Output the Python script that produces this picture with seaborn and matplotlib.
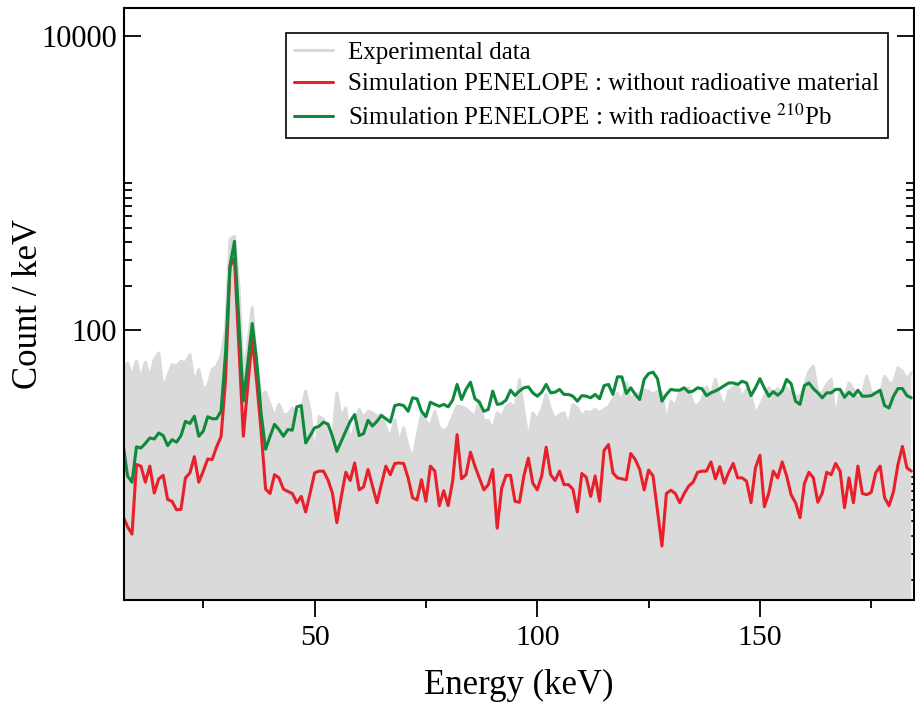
import numpy as np
import pandas as pd
import matplotlib
matplotlib.use("Agg")
import matplotlib.pyplot as plt
from matplotlib.ticker import FixedLocator, FixedFormatter, NullFormatter
import seaborn as sns

# Energy bins (keV), 1 keV step
energy = list(range(7, 185))

# Experimental spectrum (counts / keV)
experimental = [
    54, 60, 48.7, 61.5, 46.3, 60.6, 47.4, 63.2, 70.1, 39.6,
    48.7, 58.4, 57.0, 61.5, 60, 68.3, 43.8, 54, 39.6, 41.7,
    54, 57, 66.5, 100, 415, 436, 200, 50, 80, 143,
    57, 36, 38, 31.3, 25.4, 31.3, 26.7, 26.7, 29.6, 28.1,
    28.9, 38.5, 28.1, 13.5, 26.0, 24.7, 19.5, 18.0, 37.5, 25.4,
    29.6, 17.1, 22.3, 28.9, 25.4, 28.1, 27.4, 26.0, 26.7, 21.7,
    18.5, 24.7, 17.1, 21.7, 16.2, 13.2, 19.0, 26.7, 24.0, 22.3,
    28.1, 21.7, 20.6, 21.7, 25.8, 30.4, 30.1, 29.2, 27.4, 26.0,
    33.5, 24.0, 24.4, 21.1, 27.4, 25.8, 30.1, 31.7, 29.6, 46.3,
    28.1, 18.0, 27.4, 24.7, 28.9, 36.6, 28.9, 24.7, 26.7, 27.4,
    22.3, 31.3, 29.6, 26.0, 28.1, 27.4, 28.9, 27.4, 28.9, 30.1,
    33.8, 37.1, 32.9, 43.8, 33.8, 36.6, 37.5, 39.1, 38.5, 36.6,
    38.5, 37.5, 23.5, 32.9, 30.4, 38.5, 38.5, 40.6, 31.3, 30.4,
    33.8, 41.2, 35.6, 46.3, 35.6, 29.6, 38.5, 40.6, 42.8, 34.7,
    39.6, 35.6, 26.7, 30.4, 35.6, 40.6, 37.5, 40.1, 37.1, 40.6,
    37.5, 35.6, 35.6, 41.7, 52.6, 57.0, 37.5, 37.5, 42.8, 46.3,
    24.7, 37.9, 35.6, 43.8, 39.6, 33.8, 36.6, 48.7, 37.5, 37.5,
    36.6, 48.7, 43.8, 43.8, 55.5, 52.6, 46.3, 51.3,
]

# PENELOPE without radioactive material
sim_without = [
    5.4, 4.6, 4.1, 12.2, 11.9, 9.25, 11.9, 7.8, 9.75, 10.3,
    7.05, 6.85, 6.0, 6.05, 9.9, 10.7, 13.8, 9.25, 11.0, 13.3,
    13.2, 16.1, 18.9, 46, 270, 311, 78, 19, 42, 88,
    44.5, 20.4, 8.3, 7.75, 10.4, 9.9, 8.3, 8.0, 7.75, 6.7,
    7.4, 5.8, 7.8, 10.7, 11.0, 11.0, 9.6, 7.8, 4.9, 7.4,
    10.8, 9.5, 12.5, 8.2, 8.6, 11.3, 8.7, 6.7, 8.9, 11.9,
    10.4, 12.4, 12.5, 12.4, 9.9, 7.25, 7.0, 9.6, 6.85, 11.9,
    11.0, 6.4, 8.1, 6.4, 9.4, 19.5, 9.75, 10.4, 14.8, 11.9,
    9.9, 8.2, 8.9, 11.3, 4.5, 8.4, 10.3, 10.3, 6.85, 6.75,
    10.2, 13.5, 9.1, 8.2, 10.2, 16.0, 10.4, 9.5, 11.0, 8.9,
    8.9, 8.3, 5.8, 10.6, 10.0, 7.4, 10.2, 6.85, 15.2, 16.7,
    10.7, 9.9, 9.75, 9.6, 14.5, 13.2, 11.3, 8.2, 11.2, 10.2,
    5.9, 3.4, 7.75, 8.15, 7.75, 6.7, 7.75, 8.7, 9.25, 10.8,
    11.0, 11.0, 12.7, 9.75, 11.8, 9.1, 10.8, 12.4, 9.9, 9.9,
    9.4, 6.7, 11.6, 14.1, 6.3, 7.8, 11.0, 9.9, 12.7, 10.2,
    7.6, 6.7, 5.3, 9.1, 10.8, 9.9, 6.75, 7.8, 10.8, 10.4,
    12.4, 11.0, 6.2, 9.9, 6.7, 11.9, 7.75, 7.6, 7.9, 10.7,
    11.9, 7.25, 6.4, 8.0, 12.2, 16.2, 11.6, 11.0,
]

# PENELOPE with radioactive 210Pb
sim_with = [
    16.7, 10.2, 9.25, 16.1, 15.8, 17.0, 18.5, 18.2, 20.0, 19.2,
    16.4, 18.0, 17.3, 19.2, 24.0, 23.2, 26.0, 19.0, 20.6, 25.8,
    25.0, 25.0, 28.2, 70, 275, 403, 115, 33, 60, 111,
    62, 27, 15.5, 19.0, 22.9, 21.1, 19.0, 21.1, 20.9, 30.1,
    30.7, 17.1, 19.2, 21.7, 22.2, 23.7, 23.0, 19.0, 15.0, 17.6,
    20.6, 24.0, 26.7, 19.2, 19.8, 24.4, 22.3, 24.0, 26.3, 25.0,
    23.7, 30.7, 31.3, 30.7, 28.1, 34.7, 34.2, 28.1, 25.8, 32.4,
    31.3, 30.4, 31.3, 30.1, 33.5, 42.8, 33.8, 39.6, 44.3, 34.2,
    32.4, 28.1, 28.9, 38.5, 31.3, 31.7, 33.5, 39.1, 36.0, 38.6,
    40.6, 41.2, 37.5, 35.6, 37.9, 42.8, 37.5, 37.9, 39.6, 36.6,
    36.6, 35.6, 32.9, 35.9, 35.6, 34.7, 36.6, 34.2, 42.0, 42.8,
    36.6, 48.2, 48.2, 37.1, 40.6, 36.6, 33.8, 46.3, 50.7, 51.9,
    46.8, 32.9, 36.6, 39.6, 39.1, 39.1, 40.6, 37.9, 38.6, 40.6,
    40.0, 35.9, 37.5, 38.6, 40.1, 42.0, 43.8, 43.8, 42.8, 45.0,
    43.8, 35.9, 40.6, 46.8, 40.4, 35.6, 38.2, 36.1, 38.6, 46.3,
    43.3, 32.9, 31.3, 42.0, 43.8, 40.1, 37.5, 34.7, 37.5, 37.5,
    39.6, 39.6, 35.0, 37.9, 35.6, 39.1, 35.6, 35.6, 35.9, 37.5,
    39.1, 30.7, 29.6, 35.6, 40.1, 40.1, 35.9, 34.7,
]

df = pd.DataFrame({
    "Energy": energy,
    "Experimental": experimental,
    "Without": sim_without,
    "With": sim_with,
})

sns.set_theme(style="ticks")
plt.rcParams["font.family"] = ["Liberation Serif", "DejaVu Serif"]
plt.rcParams["mathtext.fontset"] = "stix"
plt.rcParams["text.color"] = "black"
plt.rcParams["axes.labelcolor"] = "black"
plt.rcParams["xtick.color"] = "black"
plt.rcParams["ytick.color"] = "black"

gray = "#dadada"
red = "#e8202a"
green = "#0f8a3c"

fig = plt.figure(figsize=(9.15, 7.07), dpi=100)
ax = fig.add_axes([124 / 915, 1 - 600 / 707, 790 / 915, 592 / 707])

# experimental spectrum drawn as a filled area
ax.fill_between(df["Energy"], df["Experimental"], 1e-3, color=gray, lw=0, zorder=1)
sns.lineplot(data=df, x="Energy", y="Experimental", color=gray, lw=2.2,
             label="Experimental data", ax=ax, zorder=2)
sns.lineplot(data=df, x="Energy", y="Without", color=red, lw=2.2,
             label="Simulation PENELOPE : without radioative material", ax=ax, zorder=3)
sns.lineplot(data=df, x="Energy", y="With", color=green, lw=2.2,
             label=r"Simulation PENELOPE : with radioactive $^{210}$Pb", ax=ax, zorder=4)

ax.set_yscale("log")
ax.set_xlim(7.2, 184.6)
ax.set_ylim(1.46, 15600)

# ticks
ax.xaxis.set_major_locator(FixedLocator([50, 100, 150]))
ax.xaxis.set_minor_locator(FixedLocator([25, 75, 125, 175]))
ax.yaxis.set_major_locator(FixedLocator([100, 10000]))
ax.yaxis.set_minor_locator(FixedLocator(list(range(2, 11)) + list(range(200, 1001, 100))))
ax.yaxis.set_major_formatter(FixedFormatter(["100", "10000"]))
ax.yaxis.set_minor_formatter(NullFormatter())

ax.tick_params(axis="x", which="both", direction="out", top=False, width=1.3, labelsize=21.5, pad=6)
ax.tick_params(axis="x", which="major", length=12)
ax.tick_params(axis="x", which="minor", length=6)
ax.tick_params(axis="y", which="both", direction="in", left=True, right=True, width=1.3, labelsize=22, pad=5)
ax.tick_params(axis="y", which="major", length=12)
ax.tick_params(axis="y", which="minor", length=6)

for sp in ax.spines.values():
    sp.set_visible(True)
    sp.set_linewidth(1.5)
    sp.set_color("black")
    sp.set_zorder(10)

ax.set_xlabel("Energy (keV)", fontsize=25, labelpad=13)
ax.set_ylabel("Count / keV", fontsize=25)
ax.yaxis.set_label_coords(-0.1, 0.5)

leg = ax.legend(loc="upper right", bbox_to_anchor=(0.967, 0.958), fontsize=18,
                frameon=True, fancybox=False, framealpha=1, edgecolor="black",
                borderaxespad=0, handlelength=1.55, handletextpad=0.6,
                labelspacing=0.35, borderpad=0.35)
leg.get_frame().set_linewidth(1.2)
leg.set_zorder(20)

fig.savefig("out.png", dpi=100)
